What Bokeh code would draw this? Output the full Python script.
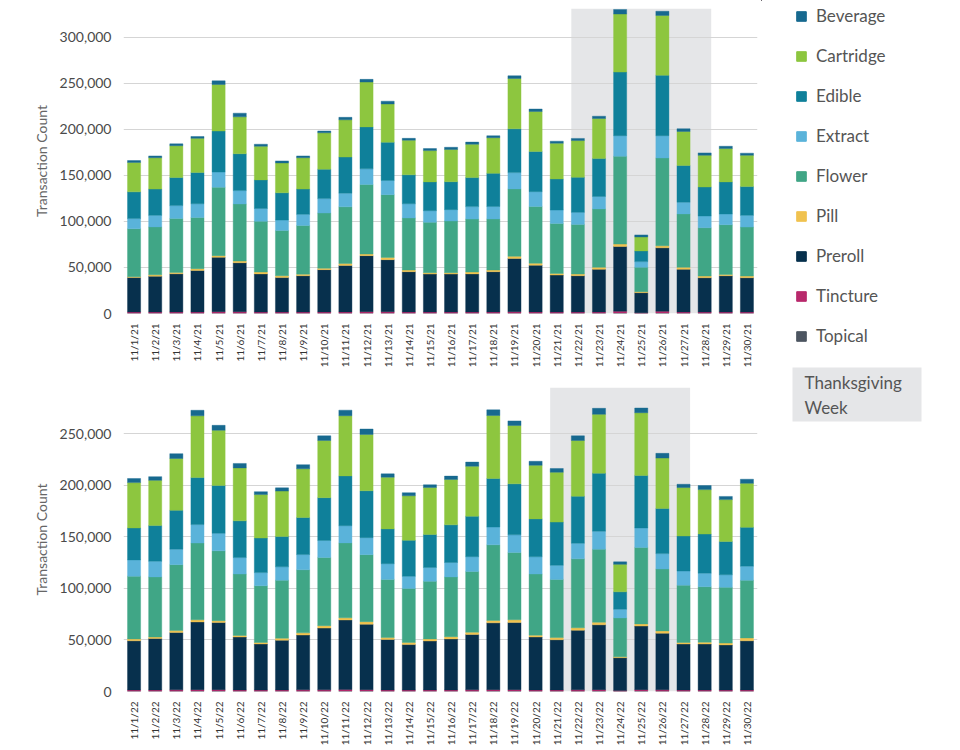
import math
from bokeh.plotting import figure
from bokeh.models import (ColumnDataSource, FactorRange, Range1d, NumeralTickFormatter,
                          FixedTicker, BoxAnnotation, Legend, LegendItem, Label)
from bokeh.layouts import row, column
from bokeh.embed import file_html
from bokeh.resources import INLINE

# ---------------- data ----------------
dates_2021 = ["11/1/21", "11/2/21", "11/3/21", "11/4/21", "11/5/21", "11/6/21", "11/7/21",
              "11/8/21", "11/9/21", "11/10/21", "11/11/21", "11/12/21", "11/13/21", "11/14/21",
              "11/15/21", "11/16/21", "11/17/21", "11/18/21", "11/19/21", "11/20/21", "11/21/21",
              "11/22/21", "11/23/21", "11/24/21", "11/25/21", "11/26/21", "11/27/21", "11/28/21",
              "11/29/21", "11/30/21"]
dates_2022 = ["11/1/22", "11/2/22", "11/3/22", "11/4/22", "11/5/22", "11/6/22", "11/7/22",
              "11/8/22", "11/9/22", "11/10/22", "11/11/22", "11/12/22", "11/13/22", "11/14/22",
              "11/15/22", "11/16/22", "11/17/22", "11/18/22", "11/19/22", "11/20/22", "11/21/22",
              "11/22/22", "11/23/22", "11/24/22", "11/25/22", "11/26/22", "11/27/22", "11/28/22",
              "11/29/22", "11/30/22"]
thanksgiving_2021 = ["11/22/21", "11/23/21", "11/24/21", "11/25/21", "11/26/21", "11/27/21", "11/28/21"]
thanksgiving_2022 = ["11/21/22", "11/22/22", "11/23/22", "11/24/22", "11/25/22", "11/26/22", "11/27/22"]

categories = ["Beverage", "Cartridge", "Edible", "Extract", "Flower", "Pill", "Preroll", "Tincture", "Topical"]

topical_2021 = [300, 300, 300, 300, 400, 400, 300, 300, 300, 300, 300, 400, 400, 300, 300,
                300, 300, 300, 400, 300, 300, 300, 300, 500, 200, 500, 300, 300, 300, 300]
tincture_2021 = [1200, 1200, 1300, 1300, 1600, 1500, 1200, 1200, 1200, 1300, 1400, 1600, 1500, 1300, 1200,
                 1200, 1200, 1300, 1500, 1400, 1200, 1200, 1300, 2000, 700, 2000, 1300, 1200, 1200, 1200]
preroll_2021 = [37500, 39000, 41500, 45200, 59000, 53200, 41500, 37500, 39500, 46000, 50500, 60800, 56500, 43800, 41300,
                41300, 41500, 43800, 57900, 50700, 40200, 39500, 46300, 70200, 21700, 68800, 46300, 37300, 39500, 37300]
pill_2021 = [1000, 1500, 1500, 1800, 1800, 1800, 2000, 2000, 1700, 1500, 2000, 1700, 2500, 1700, 1400,
             1400, 2000, 1700, 2200, 2100, 1800, 1800, 2200, 2600, 1100, 2200, 2200, 1800, 1400, 1800]
flower_2021 = [52000, 52000, 58500, 55500, 74300, 62000, 55000, 49000, 52900, 60000, 61600, 75500, 68100, 56600, 54800,
               56200, 57500, 55500, 73200, 61700, 54300, 53900, 63400, 95300, 26400, 95300, 58000, 52400, 54000, 53200]
extract_2021 = [11000, 12500, 14000, 15000, 16400, 14500, 14000, 11400, 12000, 15600, 14800, 17000, 15400, 15400, 12600,
                12300, 13500, 13500, 17700, 16000, 14500, 13100, 13600, 22400, 6200, 24200, 12700, 12800, 11600, 12700]
edible_2021 = [29000, 28500, 30500, 34000, 44500, 40000, 31000, 29600, 27400, 31900, 39200, 45500, 41500, 31400, 31200,
               30300, 31500, 36000, 47500, 43700, 33700, 38000, 41000, 69000, 11600, 65600, 39800, 31500, 34800, 31200]
cartridge_2021 = [32000, 34000, 34500, 37000, 50500, 40000, 36500, 32400, 34000, 39500, 40400, 48700, 41500, 37600, 34000,
                  35000, 36200, 38600, 54700, 43300, 38800, 39900, 43600, 63000, 15200, 64900, 37000, 34400, 36200, 34000]
beverage_2021 = [2000, 2000, 2000, 2000, 4000, 4000, 2200, 2200, 2000, 2000, 2700, 2900, 3000, 2000, 2200,
                 2400, 2300, 2200, 2900, 2700, 2200, 2300, 2400, 5000, 2200, 4500, 2900, 2600, 2500, 2300]

topical_2022 = [300, 300, 300, 400, 400, 300, 300, 300, 300, 300, 400, 400, 300, 300, 300,
                300, 300, 400, 400, 300, 300, 300, 400, 200, 400, 300, 300, 300, 300, 300]
tincture_2022 = [1200, 1200, 1300, 1400, 1400, 1200, 1100, 1200, 1300, 1300, 1500, 1400, 1200, 1100, 1200,
                 1200, 1300, 1400, 1400, 1200, 1200, 1300, 1400, 700, 1400, 1300, 1100, 1100, 1100, 1200]
preroll_2022 = [47700, 49900, 55600, 65700, 65100, 51400, 44700, 48300, 53200, 59900, 67500, 63500, 49000, 44100, 47500,
                49500, 53800, 64800, 65100, 51400, 48700, 57800, 62900, 31900, 61700, 55000, 44700, 44700, 43800, 47700]
pill_2022 = [1800, 1500, 1900, 2100, 1800, 1500, 1500, 1900, 2100, 2400, 2100, 2500, 1800, 2100, 2000,
             2200, 2100, 2400, 2700, 1800, 2100, 2400, 2500, 900, 2100, 2200, 1500, 1800, 1800, 2800]
flower_2022 = [60900, 58300, 64000, 74500, 67800, 59600, 55000, 56300, 61200, 66200, 72700, 65000, 56500, 52300, 56000,
               58000, 59000, 73300, 65400, 59300, 56500, 66900, 70800, 37700, 74200, 60100, 55600, 53800, 54100, 55900]
extract_2022 = [15800, 15200, 15000, 17900, 17000, 16000, 12800, 13000, 14800, 16500, 16700, 16500, 15200, 11900, 13400,
                14000, 14300, 17300, 17000, 16700, 13700, 15200, 17600, 8500, 18900, 14900, 13700, 13100, 12200, 13700]
edible_2022 = [31000, 34600, 37700, 45600, 46500, 35600, 33500, 29500, 35900, 41500, 48300, 45500, 33800, 34900, 31900,
               36500, 39300, 47100, 49500, 36800, 41900, 45600, 56300, 16800, 51000, 43800, 34000, 38000, 32200, 37700]
cartridge_2022 = [44000, 43900, 50300, 59900, 53500, 51400, 42200, 44000, 47300, 55500, 58400, 54700, 50200, 43200, 45700,
                  44100, 48500, 61100, 56600, 52000, 48400, 54100, 57100, 26700, 60800, 48900, 47000, 43100, 40700, 42700]
beverage_2022 = [4000, 3600, 4700, 5400, 4800, 4300, 2800, 3100, 4000, 4500, 5400, 5200, 3200, 3000, 2600,
                 3200, 4000, 5500, 4500, 3900, 3600, 4500, 5800, 2400, 4600, 4600, 3200, 4000, 3100, 4000]

y_ticks_2021 = [0, 50000, 100000, 150000, 200000, 250000, 300000]
y_ticks_2022 = [0, 50000, 100000, 150000, 200000, 250000]

# ---------------- style ----------------
COLORS = {
    "Beverage": "#17698f",
    "Cartridge": "#8dc63f",
    "Edible": "#0f809a",
    "Extract": "#5ab3da",
    "Flower": "#40a686",
    "Pill": "#f0c24f",
    "Preroll": "#07304d",
    "Tincture": "#b8296c",
    "Topical": "#4d5561",
}
STACK_ORDER = ["Topical", "Tincture", "Preroll", "Pill", "Flower", "Extract", "Edible", "Cartridge", "Beverage"]
SHADE = "#e5e6e8"
FONT = "Lato"
BAR_W = 0.62


def build_chart(dates, series, week, y_end, ticks, frame_h, top_border, bottom_border):
    src = ColumnDataSource(dict(date=dates, **series))
    p = figure(x_range=FactorRange(factors=dates, range_padding=0), y_range=Range1d(0, y_end),
               frame_width=634, frame_height=frame_h,
               min_border_left=123, min_border_right=4,
               min_border_top=top_border, min_border_bottom=bottom_border,
               toolbar_location=None, output_backend="svg", outline_line_color=None,
               background_fill_color="white")
    left = dates.index(week[0]) + 0.5 - BAR_W / 2
    right = dates.index(week[-1]) + 0.5 + BAR_W / 2
    p.add_layout(BoxAnnotation(left=left, right=right, bottom=0, fill_color=SHADE, fill_alpha=1,
                               line_color=None, level="image"))
    cols = [COLORS[c] for c in STACK_ORDER]
    p.vbar_stack(STACK_ORDER, x="date", width=BAR_W, fill_color=cols, line_color=cols,
                 line_width=0.4, source=src)

    p.xgrid.grid_line_color = None
    p.ygrid.grid_line_color = "#d5d5d5"
    p.ygrid.grid_line_width = 1

    p.yaxis.ticker = FixedTicker(ticks=ticks)
    p.yaxis.formatter = NumeralTickFormatter(format="0,0")
    p.yaxis.axis_line_color = None
    p.yaxis.major_tick_line_color = None
    p.yaxis.minor_tick_line_color = None
    p.yaxis.major_label_text_font = FONT
    p.yaxis.major_label_text_font_size = "14px"
    p.yaxis.major_label_text_color = "#4a4a4a"
    p.yaxis.major_label_standoff = 6
    p.yaxis.axis_label = "Transaction Count"
    p.yaxis.axis_label_text_font = FONT
    p.yaxis.axis_label_text_font_size = "14px"
    p.yaxis.axis_label_text_font_style = "normal"
    p.yaxis.axis_label_text_color = "#666666"
    p.yaxis.axis_label_standoff = 7

    p.xaxis.axis_line_color = None
    p.xaxis.major_tick_line_color = None
    p.xaxis.minor_tick_line_color = None
    p.xaxis.major_label_orientation = math.pi / 2
    p.xaxis.major_label_text_font = FONT
    p.xaxis.major_label_text_font_size = "10px"
    p.xaxis.major_label_text_color = "#333333"
    p.xaxis.major_label_standoff = 4
    return p


series_2021 = {"Topical": topical_2021, "Tincture": tincture_2021, "Preroll": preroll_2021,
               "Pill": pill_2021, "Flower": flower_2021, "Extract": extract_2021,
               "Edible": edible_2021, "Cartridge": cartridge_2021, "Beverage": beverage_2021}
series_2022 = {"Topical": topical_2022, "Tincture": tincture_2022, "Preroll": preroll_2022,
               "Pill": pill_2022, "Flower": flower_2022, "Extract": extract_2022,
               "Edible": edible_2022, "Cartridge": cartridge_2022, "Beverage": beverage_2022}

p1 = build_chart(dates_2021, series_2021, thanksgiving_2021, 331000, y_ticks_2021, 305, 8, 58)
p2 = build_chart(dates_2022, series_2022, thanksgiving_2022, 295000, y_ticks_2022, 304, 16, 46)

# ---------------- legend panel ----------------
lf = figure(width=180, height=430, x_range=Range1d(0, 180), y_range=Range1d(430, 0),
            toolbar_location=None, output_backend="svg", outline_line_color=None,
            min_border=0, x_axis_location=None, y_axis_location=None)
lf.xgrid.grid_line_color = None
lf.ygrid.grid_line_color = None
items = []
for c in categories:
    r = lf.vbar(x=[-50], top=[-50], bottom=[-60], width=1, fill_color=COLORS[c], line_color=COLORS[c])
    items.append(LegendItem(label=c, renderers=[r]))
legend = Legend(items=items, location=(34, 84), glyph_width=12, glyph_height=12,
                label_text_font=FONT, label_text_font_size="17px", label_text_color="#555555",
                label_standoff=9, label_height=20, spacing=19, padding=0, margin=0,
                border_line_color=None, background_fill_alpha=0)
lf.add_layout(legend)
lf.add_layout(BoxAnnotation(left=31, right=160, top=367, bottom=421, fill_color=SHADE,
                            fill_alpha=1, line_color=None))
lf.add_layout(Label(x=43, y=371, text="Thanksgiving\nWeek", text_baseline="top",
                    text_font=FONT, text_font_size="17px", text_color="#555555"))

layout = row(column(p1, p2), lf)
open("out.html", "w").write(file_html(layout, INLINE))
